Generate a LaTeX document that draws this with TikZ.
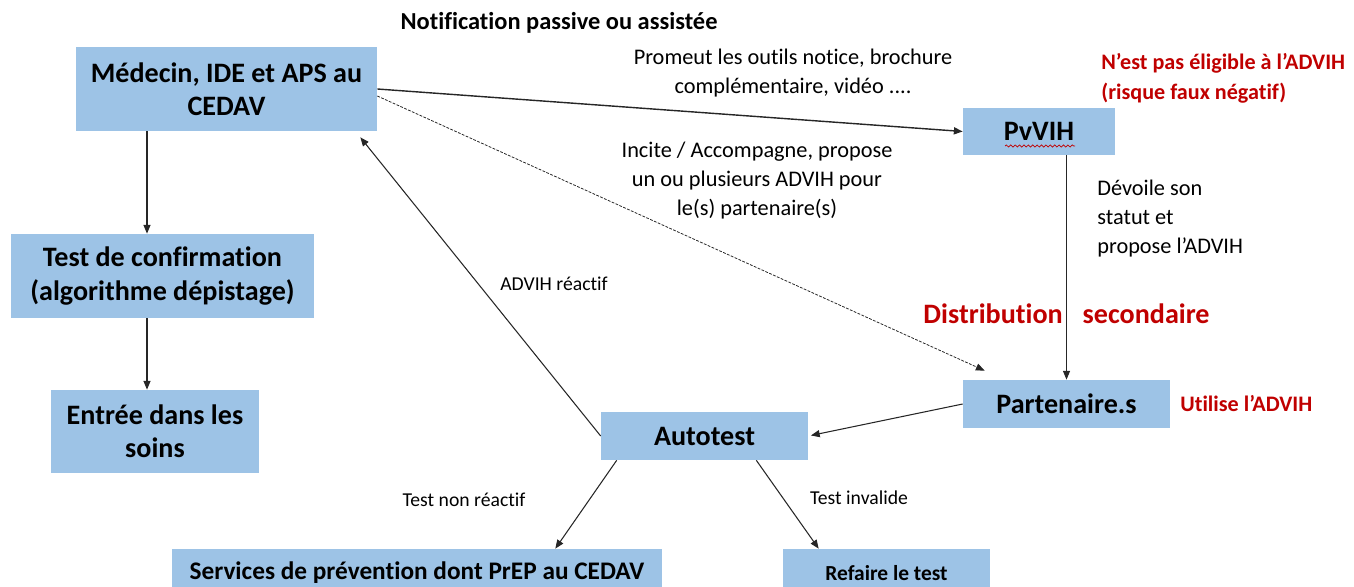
\documentclass[tikz,border=0pt]{standalone}
\usepackage{fontspec}
\setmainfont{Carlito}[Ligatures=NoCommon]
\usepackage{xcolor}
\usetikzlibrary{arrows.meta,calc,decorations.pathmorphing}

\definecolor{boxblue}{HTML}{9DC3E6}
\definecolor{darkred}{HTML}{C00000}

\tikzset{
  box/.style={fill=boxblue,align=center,inner sep=0pt,font=\fontsize{16}{19}\selectfont\bfseries},
  arr/.style={-{Triangle[length=5pt,width=4pt]},line width=0.6pt,draw=black!85},
  note/.style={align=center,font=\fontsize{12.7}{16.5}\selectfont},
  small/.style={font=\fontsize{11.2}{13}\selectfont},
  alert/.style={text=darkred,align=left,font=\fontsize{12.6}{17}\selectfont\bfseries},
}

\begin{document}
\begin{tikzpicture}[x=0.02cm,y=-0.02cm]

\clip (0,0) rectangle (1354,587);

% centre de depistage
\node[box,minimum width=6.02cm,minimum height=1.68cm] (Medecin) at (226.5,89) {M\'edecin, IDE et APS au\\CEDAV};
\node[box,minimum width=6.06cm,minimum height=1.68cm] (Confirm) at (162.5,276) {Test de confirmation\\(algorithme d\'epistage)};
\node[box,minimum width=4.16cm,minimum height=1.66cm] (Soins) at (155,431.5) {Entr\'ee dans les\\soins};

% personne et partenaire
\node[box,minimum width=3.04cm,minimum height=0.94cm] (PvVIH) at (1039,131.5) {PvVIH};
\node[box,minimum width=4.14cm,minimum height=0.96cm] (Partenaire) at (1066.5,404) {Partenaire.s};
\node[box,minimum width=4.14cm,minimum height=0.96cm] (Autotest) at (704.5,436) {Autotest};

% issues du test
\node[box,minimum width=9.8cm,minimum height=0.96cm,font=\fontsize{14.4}{17}\selectfont\bfseries] (Services) at (417,573) {Services de pr\'evention dont PrEP au CEDAV};
\node[box,minimum width=4.14cm,minimum height=0.96cm,font=\fontsize{12.2}{15}\selectfont\bfseries] (Refaire) at (886.5,573) {Refaire le test};

% soulignement rouge sous PvVIH
\draw[darkred,line width=0.4pt,decorate,decoration={snake,amplitude=0.6pt,segment length=2.5pt}]
  (1005,146) -- (1075,146);


% textes
\node[font=\fontsize{13.9}{16}\selectfont\bfseries] (Notif) at (559,23) {Notification passive ou assist\'ee};
\node[note] (Promeut) at (793,73.5) {Promeut les outils notice, brochure\\compl\'ementaire, vid\'eo ....};
\node[note] (Incite) at (757,181) {Incite / Accompagne, propose\\un ou plusieurs ADVIH pour\\le(s) partenaire(s)};
\node[note,align=left,anchor=west,inner sep=0pt] (Devoile) at (1097,219) {D\'evoile son\\statut et\\propose l'ADVIH};

\node[alert,anchor=west,inner sep=0pt] (Eligible) at (1101,78) {N'est pas \'eligible \`a l'ADVIH\\(risque faux n\'egatif)};
\node[alert,anchor=west,inner sep=0pt] (Utilise) at (1180,404) {Utilise l'ADVIH};
\node[text=darkred,font=\fontsize{16}{19}\selectfont\bfseries] (Distrib) at (Partenaire.north |- 0,314) {Distribution\hspace{0.4cm}secondaire};

\node[small] (Reactif) at (554,284) {ADVIH r\'eactif};
\node[small] (NonReactif) at (464,500) {Test non r\'eactif};
\node[small] (Invalide) at (859,498) {Test invalide};


% fleches
\coordinate (DashEnd) at ($(Partenaire.north west)+(22,-9)$);
\coordinate (ReturnEnd) at ($(Medecin.south east)+(-17,6)$);

\draw[arr,line width=0.8pt] (Medecin.east) -- (PvVIH.west);
\draw[arr,dash pattern=on 1.6pt off 0.8pt,line width=0.45pt] ($(Medecin.east)+(0,7)$) -- (DashEnd);
\draw[arr] (PvVIH.south -| Partenaire.north) -- (Partenaire.north);
\draw[arr,shorten >=1.5pt] (Partenaire.west) -- (Autotest.east);
\draw[arr] (Autotest.west) -- (ReturnEnd);

\draw[arr] (Medecin.south -| 147,0) -- (Confirm.north -| 147,0);
\draw[arr] (Confirm.south -| 147,0) -- (Soins.north -| 147,0);

\draw[arr] ($(Autotest.south west)+(16,0)$) -- ($(Services.north east)+(-107,0)$);
\draw[arr] ($(Autotest.south east)+(-52,0)$) -- ($(Refaire.north west)+(36,0)$);

\end{tikzpicture}
\end{document}
